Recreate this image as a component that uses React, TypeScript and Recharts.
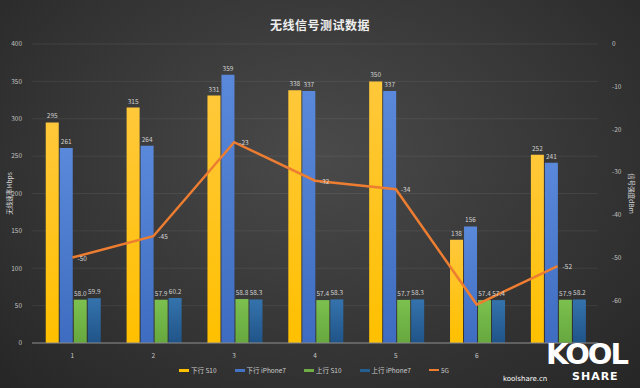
import React from 'react';
import { ComposedChart, Bar, Line, XAxis, YAxis, CartesianGrid, LabelList } from 'recharts';

const categories = ['1', '2', '3', '4', '5', '6', '7'];
const downS10 = [295, 315, 331, 338, 350, 138, 252];
const downIphone = [261, 264, 359, 337, 337, 156, 241];
const upS10 = [58.0, 57.9, 58.8, 57.4, 57.7, 57.4, 57.9];
const upIphone = [59.9, 60.2, 58.3, 58.3, 58.3, 57.4, 58.2];
const signal5G = [-50, -45, -23, -32, -34, -61, -52];
const leftTicks = [0, 50, 100, 150, 200, 250, 300, 350, 400];
const rightTicks = [0, -10, -20, -30, -40, -50, -60];

const seriesNames = ['下行 S10', '下行 iPhone7', '上行 S10', '上行 iPhone7', '5G'];
const seriesColors = ['#FFC000', '#4472C4', '#70AD47', '#255E91', '#ED7D31'];

const data = categories.map((c, i) => ({
  cat: c,
  downS10: downS10[i],
  downIphone: downIphone[i],
  upS10: upS10[i],
  upIphone: upIphone[i],
  g5: signal5G[i],
}));

const FONT = '"Noto Sans CJK SC", "Noto Sans", sans-serif';
const labelStyle = { fill: '#d0d0d0', fontSize: 6.5, fontFamily: FONT };

const LineLabel = (props: any) => {
  const { x, y, value, index } = props;
  if (index === 5) return null;
  return (
    <text x={x + 5} y={y + 3} fill="#d8d8d8" fontSize={6.5} fontFamily={FONT}>
      {value}
    </text>
  );
};

export default function App() {
  return (
    <div
      style={{
        position: 'absolute',
        left: 0,
        top: 0,
        width: 640,
        height: 388,
        overflow: 'hidden',
        background: 'radial-gradient(ellipse at 50% 40%, #4a4a4a 0%, #3a3a3a 45%, #262626 100%)',
        fontFamily: FONT,
      }}
    >
      <div
        style={{
          position: 'absolute',
          top: 16,
          left: 0,
          width: 640,
          textAlign: 'center',
          color: '#eeeeee',
          fontSize: 12,
          fontWeight: 'bold',
          letterSpacing: 0.5,
        }}
      >
        无线信号测试数据
      </div>
      <ComposedChart
        width={640}
        height={388}
        data={data}
        margin={{ top: 44, right: 0, bottom: 25, left: 0 }}
        barCategoryGap="17%"
        barGap={1}
        style={{ position: 'absolute', left: 0, top: 0 }}
      >
        <defs>
          <linearGradient id="gY" x1="0" y1="0" x2="0" y2="1">
            <stop offset="0%" stopColor="#FFC83A" />
            <stop offset="100%" stopColor="#FFC000" />
          </linearGradient>
          <linearGradient id="gB" x1="0" y1="0" x2="0" y2="1">
            <stop offset="0%" stopColor="#5A88DA" />
            <stop offset="100%" stopColor="#3E6CC0" />
          </linearGradient>
          <linearGradient id="gG" x1="0" y1="0" x2="0" y2="1">
            <stop offset="0%" stopColor="#7CC04F" />
            <stop offset="100%" stopColor="#66A83E" />
          </linearGradient>
          <linearGradient id="gD" x1="0" y1="0" x2="0" y2="1">
            <stop offset="0%" stopColor="#3573AD" />
            <stop offset="100%" stopColor="#1F5488" />
          </linearGradient>
        </defs>
        <CartesianGrid vertical={false} stroke="rgba(255,255,255,0.07)" yAxisId="left" />
        <XAxis
          dataKey="cat"
          height={20}
          axisLine={{ stroke: '#8a8a8a' }}
          tickLine={false}
          tick={{ fill: '#c8c8c8', fontSize: 6.5, fontFamily: FONT }}
          tickMargin={4}
        />
        <YAxis
          yAxisId="left"
          width={32}
          domain={[0, 400]}
          ticks={leftTicks}
          axisLine={false}
          tickLine={false}
          tick={{ fill: '#c0c0c0', fontSize: 6.5, fontFamily: FONT }}
          tickMargin={4}
          label={{
            value: '无线速率Mbps',
            angle: -90,
            position: 'insideLeft',
            offset: 10,
            style: { fill: '#d8d8d8', fontSize: 6.5, fontFamily: FONT, textAnchor: 'middle' },
          }}
        />
        <YAxis
          yAxisId="right"
          orientation="right"
          width={42}
          domain={[-70, 0]}
          ticks={rightTicks}
          axisLine={false}
          tickLine={false}
          tick={{ fill: '#c0c0c0', fontSize: 6.5, fontFamily: FONT }}
          tickMargin={8}
          label={{
            value: '信号强度dBm',
            angle: 90,
            position: 'insideRight',
            offset: 9,
            style: { fill: '#d8d8d8', fontSize: 6.5, fontFamily: FONT, textAnchor: 'middle' },
          }}
        />
        <Bar yAxisId="left" dataKey="downS10" fill="url(#gY)" isAnimationActive={false}>
          <LabelList dataKey="downS10" position="top" offset={4} style={labelStyle} />
        </Bar>
        <Bar yAxisId="left" dataKey="downIphone" fill="url(#gB)" isAnimationActive={false}>
          <LabelList dataKey="downIphone" position="top" offset={4} style={labelStyle} />
        </Bar>
        <Bar yAxisId="left" dataKey="upS10" fill="url(#gG)" isAnimationActive={false}>
          <LabelList
            dataKey="upS10"
            position="top"
            offset={4}
            style={labelStyle}
            formatter={(v: any) => Number(v).toFixed(1)}
          />
        </Bar>
        <Bar yAxisId="left" dataKey="upIphone" fill="url(#gD)" isAnimationActive={false}>
          <LabelList
            dataKey="upIphone"
            position="top"
            offset={4}
            style={labelStyle}
            formatter={(v: any) => Number(v).toFixed(1)}
          />
        </Bar>
        <Line
          yAxisId="right"
          dataKey="g5"
          type="linear"
          stroke="#ED7D31"
          strokeWidth={2.5}
          dot={false}
          isAnimationActive={false}
        >
          <LabelList dataKey="g5" content={<LineLabel />} />
        </Line>
      </ComposedChart>
      <div
        style={{
          position: 'absolute',
          top: 365,
          left: 0,
          width: 640,
          display: 'flex',
          justifyContent: 'center',
          gap: 18,
          paddingRight: 12,
          boxSizing: 'border-box',
          fontSize: 6.5,
          color: '#cccccc',
        }}
      >
        {seriesNames.map((n, i) => (
          <div key={n} style={{ display: 'flex', alignItems: 'center', gap: 2 }}>
            <span
              style={{
                display: 'inline-block',
                width: 10,
                height: i === 4 ? 2 : 3,
                background: seriesColors[i],
              }}
            />
            <span>{n}</span>
          </div>
        ))}
      </div>
      <div
        style={{
          position: 'absolute',
          left: 503,
          top: 375,
          fontSize: 7,
          color: '#ffffff',
          fontFamily: '"DejaVu Sans", sans-serif',
        }}
      >
        koolshare.cn
      </div>
      <div
        style={{
          position: 'absolute',
          left: 546,
          top: 340,
          fontSize: 29,
          fontWeight: 900,
          color: '#ffffff',
          fontFamily: '"DejaVu Sans", sans-serif',
          letterSpacing: -2,
          lineHeight: '29px',
        }}
      >
        KOOL
      </div>
      <div
        style={{
          position: 'absolute',
          left: 572,
          top: 370,
          fontSize: 11,
          fontWeight: 900,
          color: '#ffffff',
          fontFamily: '"DejaVu Sans", sans-serif',
          letterSpacing: 1,
          lineHeight: '13px',
        }}
      >
        SHARE
      </div>
    </div>
  );
}
